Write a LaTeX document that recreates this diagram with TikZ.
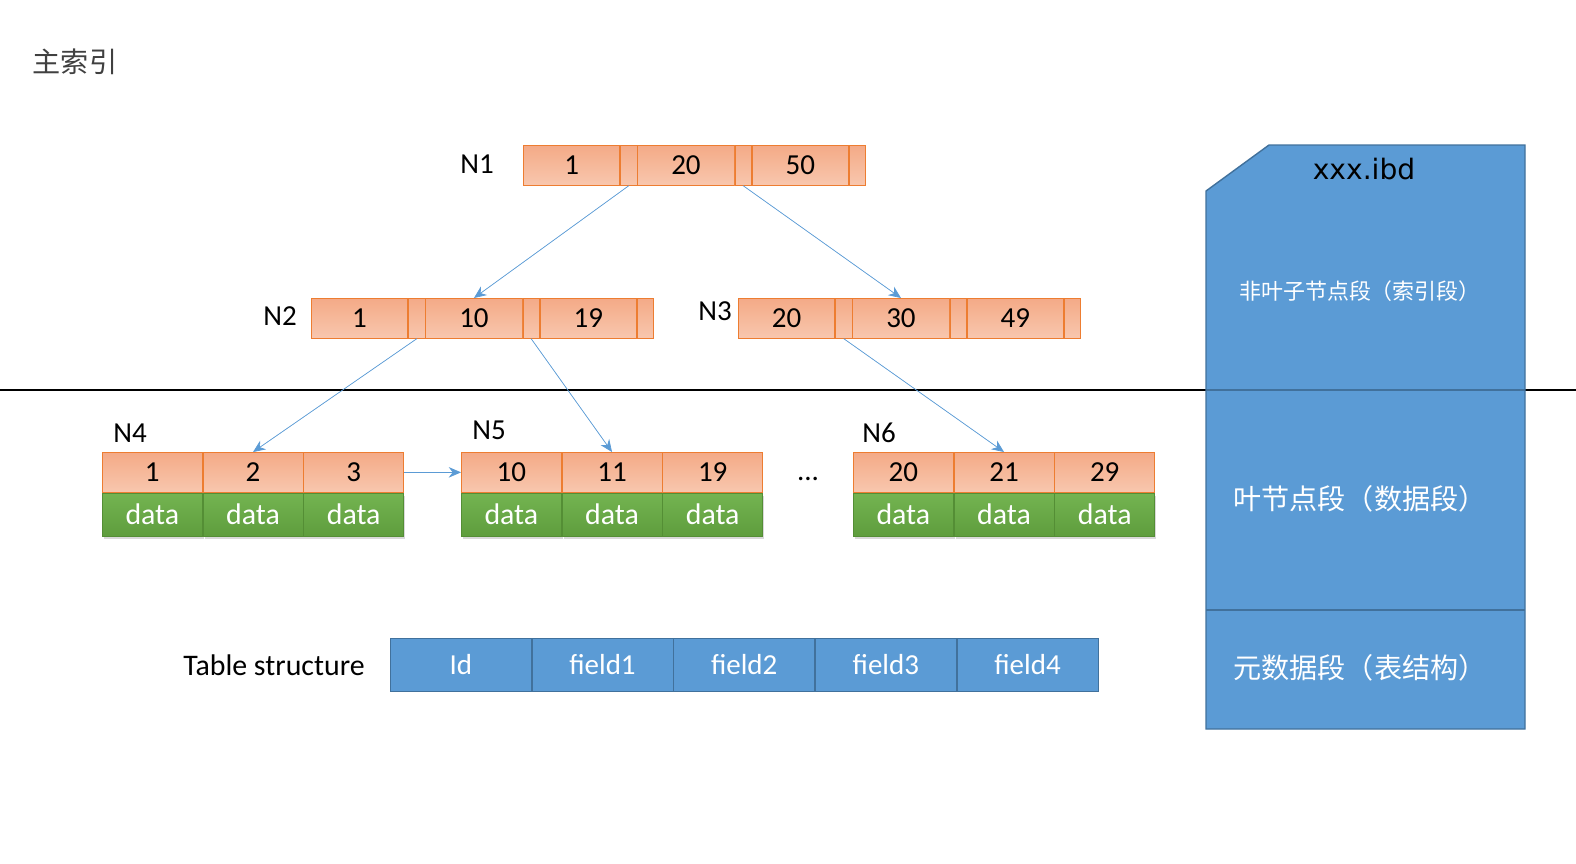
\documentclass[tikz,border=0pt]{standalone}
\usepackage{fontspec}
\setmainfont{Carlito}
\newfontfamily\cjk{Noto Sans CJK SC}
\newfontfamily\ibdfont{DejaVu Sans}
\usepackage{tikz}
\usetikzlibrary{shapes,arrows,arrows.meta,positioning,calc,shadows}
\definecolor{keyline}{HTML}{ED7D31}
\definecolor{keytop}{HTML}{F4AA87}
\definecolor{keybot}{HTML}{F8C7AE}
\definecolor{greentop}{HTML}{74B451}
\definecolor{greenbot}{HTML}{5E9D3D}
\definecolor{greenline}{HTML}{548E35}
\definecolor{boxblue}{HTML}{5B9BD5}
\definecolor{boxline}{HTML}{41719C}
\definecolor{titlegray}{HTML}{404040}
\newcommand{\cellfont}{\fontsize{16.5}{19}\selectfont}
\tikzstyle{keycell} = [rectangle, minimum width=1.93cm, minimum height=0.8cm, inner sep=0pt, draw=keyline, top color=keytop, bottom color=keybot, font=\cellfont]
\tikzstyle{ptrcell} = [keycell, minimum width=0.33cm]
\tikzstyle{leafkey} = [keycell, minimum width=2cm]
\tikzstyle{datacell} = [rectangle, minimum width=2cm, minimum height=0.86cm, inner sep=0pt, draw=greenline, top color=greentop, bottom color=greenbot, text=white, font=\fontsize{17}{19}\selectfont, drop shadow={opacity=0.3, shadow xshift=1pt, shadow yshift=-1.5pt}]
\tikzstyle{fieldcell} = [rectangle, minimum width=2.82cm, minimum height=1.06cm, inner sep=0pt, draw=boxline, fill=boxblue, text=white, font=\cellfont]
\tikzstyle{label} = [font=\cellfont, inner sep=0pt]
\tikzstyle{arrow} = [-{Stealth[length=7pt,width=6pt]}, draw=boxblue, fill=boxblue, thin]

\begin{document}
\begin{tikzpicture}[x=0.02cm, y=-0.02cm, node distance=0pt]
	\useasboundingbox (0,0) rectangle (1576,863);
	\node (title) [font=\cjk\fontsize{16}{19}\selectfont, text=titlegray] at (75,62) {主索引};

	% separator
	\draw [line width=1.3pt] (0,390) -- (1576,390);

	% N1
	\node (n1k1) [keycell, anchor=north west] at (523,145) {1};
	\node (n1p1) [ptrcell, right = of n1k1] {};
	\node (n1k2) [keycell, right = of n1p1] {20};
	\node (n1p2) [ptrcell, right = of n1k2] {};
	\node (n1k3) [keycell, right = of n1p2] {50};
	\node (n1p3) [ptrcell, right = of n1k3] {};
	\node (l1) [label] at (477,164) {N1};

	% N2
	\node (n2k1) [keycell, anchor=north west] at (311,298) {1};
	\node (n2p1) [ptrcell, right = of n2k1] {};
	\node (n2k2) [keycell, right = of n2p1] {10};
	\node (n2p2) [ptrcell, right = of n2k2] {};
	\node (n2k3) [keycell, right = of n2p2] {19};
	\node (n2p3) [ptrcell, right = of n2k3] {};
	\node (l2) [label] at (280,316) {N2};

	% N3
	\node (n3k1) [keycell, anchor=north west] at (738,298) {20};
	\node (n3p1) [ptrcell, right = of n3k1] {};
	\node (n3k2) [keycell, right = of n3p1] {30};
	\node (n3p2) [ptrcell, right = of n3k2] {};
	\node (n3k3) [keycell, right = of n3p2] {49};
	\node (n3p3) [ptrcell, right = of n3k3] {};
	\node (l3) [label] at (715,311) {N3};

	% leaves
	\node (n4k1) [leafkey, anchor=north west] at (102,452) {1};
	\node (n4k2) [leafkey, right = of n4k1] {2};
	\node (n4k3) [leafkey, right = of n4k2] {3};
	\node (n4d1) [datacell, below = of n4k1] {data};
	\node (n4d2) [datacell, below = of n4k2] {data};
	\node (n4d3) [datacell, below = of n4k3] {data};
	\node (l4) [label] at (130,433) {N4};

	\node (n5k1) [leafkey, anchor=north west] at (461,452) {10};
	\node (n5k2) [leafkey, right = of n5k1] {11};
	\node (n5k3) [leafkey, right = of n5k2] {19};
	\node (n5d1) [datacell, below = of n5k1] {data};
	\node (n5d2) [datacell, below = of n5k2] {data};
	\node (n5d3) [datacell, below = of n5k3] {data};
	\node (l5) [label] at (489,430) {N5};

	\node (dots) [label] at (808,479) {...};

	\node (n6k1) [leafkey, anchor=north west] at (853,452) {20};
	\node (n6k2) [leafkey, right = of n6k1] {21};
	\node (n6k3) [leafkey, right = of n6k2] {29};
	\node (n6d1) [datacell, below = of n6k1] {data};
	\node (n6d2) [datacell, below = of n6k2] {data};
	\node (n6d3) [datacell, below = of n6k3] {data};
	\node (l6) [label] at (879,433) {N6};

	\draw [arrow] (n1p1.south) -- (n2k2.north);
	\draw [arrow] (n1p2.south) -- (n3k2.north);
	\draw [arrow] (n2p1.south) -- (n4k2.north);
	\draw [arrow] (n2p2.south) -- (n5k2.north);
	\draw [arrow] (n3p1.south) -- (n6k2.north);
	\draw [arrow] (n4k3.east) -- (n5k1.west);

	% table structure
	\node (tid) [fieldcell, anchor=north west] at (390,638) {Id};
	\node (tf1) [fieldcell, right = of tid] {field1};
	\node (tf2) [fieldcell, right = of tf1] {field2};
	\node (tf3) [fieldcell, right = of tf2] {field3};
	\node (tf4) [fieldcell, right = of tf3] {field4};
	\node (tlabel) [label, font=\fontsize{17}{19}\selectfont, left = 0.5cm of tid] {Table structure};

	% ibd file
	\draw [draw=boxline, fill=boxblue, thick] (1206,191) -- (1269,145) -- (1525,145) -- (1525,729) -- (1206,729) -- cycle;
	\draw [draw=boxline, thick] (1206,390) -- (1525,390);
	\draw [draw=boxline, thick] (1206,610) -- (1525,610);
	\node (ibd) [font=\ibdfont\fontsize{16}{19}\selectfont] at (1364,169) {xxx.ibd};
	\node (seg1) [font=\cjk\fontsize{12.5}{15}\selectfont, text=white] at (1360,291) {非叶子节点段（索引段）};
	\node (seg2) [font=\cjk\fontsize{16}{19}\selectfont, text=white] at (1360,499) {叶节点段（数据段）};
	\node (seg3) [font=\cjk\fontsize{16}{19}\selectfont, text=white] at (1360,668) {元数据段（表结构）};
\end{tikzpicture}
\end{document}
